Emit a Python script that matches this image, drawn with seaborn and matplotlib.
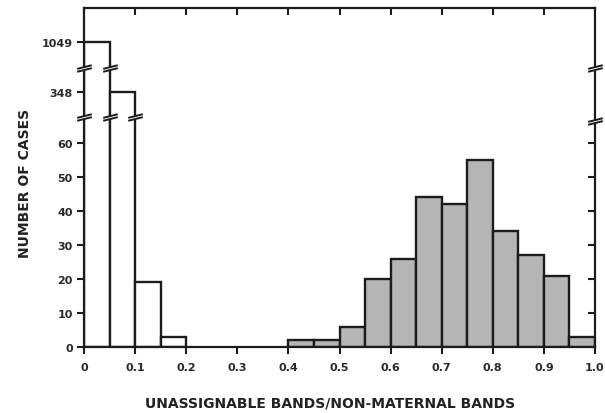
import numpy as np
import pandas as pd
import matplotlib
matplotlib.use("Agg")
import matplotlib.pyplot as plt
from matplotlib.path import Path
import seaborn as sns

# ---- data ----
bin_left = [0.00, 0.05, 0.10, 0.15, 0.20, 0.25, 0.30, 0.35, 0.40, 0.45,
            0.50, 0.55, 0.60, 0.65, 0.70, 0.75, 0.80, 0.85, 0.90, 0.95]
counts = [1049, 348, 19, 3, 0, 0, 0, 0, 2, 2,
          6, 20, 26, 44, 42, 55, 34, 27, 21, 3]
group = ["low"] * 8 + ["high"] * 12
y_ticks = [0, 10, 20, 30, 40, 50, 60, 348, 1049]
x_ticks = [0, 0.1, 0.2, 0.3, 0.4, 0.5, 0.6, 0.7, 0.8, 0.9, 1.0]
x_tick_labels = ["0", "0.1", "0.2", "0.3", "0.4", "0.5", "0.6", "0.7", "0.8", "0.9", "1.0"]

sns.set_theme(style="white")
plt.rcParams["font.family"] = ["DejaVu Sans"]

# piecewise-linear broken y scale
val_knots = np.array([0.0, 67.6, 348.0, 1049.0, 1500.0])
pos_knots = np.array([0.0, 230.0, 255.0, 305.5, 339.0])
def fwd(v):
    return np.interp(v, val_knots, pos_knots)
def inv(p):
    return np.interp(p, pos_knots, val_knots)

ink = "#1c1c1c"
fig = plt.figure(figsize=(6.05, 4.14), dpi=100)
ax = fig.add_axes([84 / 605, (414 - 348) / 414, (595 - 84) / 605, (348 - 9) / 414])
ax.set_yscale("function", functions=(fwd, inv))

df = pd.DataFrame({"x": np.array(bin_left) + 0.025, "count": counts, "group": group})
colors = {"low": "white", "high": "#b5b5b5"}
for g in ["low", "high"]:
    sub = df[df["group"] == g]
    sub = sub[sub["count"] > 0]
    lo = float(sub["x"].min() - 0.025)
    hi = float(sub["x"].max() + 0.025)
    sns.histplot(data=sub, x="x", weights="count", binwidth=0.05, binrange=(lo, hi),
                 color=colors[g], alpha=1, edgecolor=ink, linewidth=1.7,
                 ax=ax)

ax.set_xlim(0, 1.0)
ax.set_ylim(0, 1500)
ax.set_xticks(x_ticks)
ax.set_xticklabels(x_tick_labels)
ax.set_yticks(y_ticks)
ax.set_yticklabels([str(t) for t in y_ticks])
for s in ax.spines.values():
    s.set_visible(True)
    s.set_color(ink)
    s.set_linewidth(1.6)
tick_font = dict(family="DejaVu Sans", weight="bold", size=8)
ax.tick_params(axis="x", direction="out", top=False, bottom=True, length=5, width=1.5,
               color=ink, pad=6, labelcolor="#2a2a2a")
ax.tick_params(axis="y", direction="out", left=True, length=5, width=1.5,
               color=ink, pad=3, labelcolor="#2a2a2a")
for lab in ax.get_xticklabels() + ax.get_yticklabels():
    lab.set_fontproperties(matplotlib.font_manager.FontProperties(**tick_font))

ax.set_xlabel("UNASSIGNABLE BANDS/NON-MATERNAL BANDS", fontsize=10,
              fontweight="bold", color="#222222")
ax.xaxis.set_label_coords((330 - 84) / 511, -(404 - 348) / 339)
ax.xaxis.label.set_va("center")
ax.set_ylabel("NUMBER OF CASES", fontsize=10, fontweight="bold", color="#222222")
ax.yaxis.set_label_coords(-(84 - 25) / 511, (348 - 183) / 339)
ax.yaxis.label.set_va("center")

# top ticks (inward) and right-side ticks (lower segment only)
axt = ax.twiny()
axt.set_xlim(ax.get_xlim())
axt.set_xticks(x_ticks[1:-1])
axt.tick_params(axis="x", direction="in", top=True, length=5, width=1.5,
                color=ink, labeltop=False)
ax2 = ax.twinx()
ax2.set_yscale("function", functions=(fwd, inv))
ax2.set_ylim(ax.get_ylim())
ax2.set_yticks([10, 20, 30, 40, 50, 60])
ax2.tick_params(axis="y", direction="in", right=True, length=5, width=1.5,
                color=ink, labelright=False)
for a in (axt, ax2):
    for s in a.spines.values():
        s.set_visible(False)
    a.grid(False)

# break marks
line_path = Path([(-1, -0.05), (1, 0.45), (-1, -0.45), (1, 0.05)],
                 [Path.MOVETO, Path.LINETO, Path.MOVETO, Path.LINETO])
fill_path = Path([(-1, -0.05), (1, 0.45), (1, 0.05), (-1, -0.45), (-1, -0.05)],
                 [Path.MOVETO, Path.LINETO, Path.LINETO, Path.LINETO, Path.CLOSEPOLY])
upper_break = 681
lower_break = 67.6
breaks = [(0.0, upper_break), (0.05, upper_break), (1.0, upper_break),
          (0.0, lower_break), (0.05, lower_break), (0.10, lower_break), (1.0, 66.5)]
for bx, by in breaks:
    ax.plot([bx], [by], marker=fill_path, ms=10.5, mfc="white", mec="white", mew=0,
            clip_on=False, zorder=10)
    ax.plot([bx], [by], marker=line_path, ms=10.5, mfc="none", mec=ink, mew=1.4,
            clip_on=False, zorder=11, linestyle="none")

fig.savefig("out.png", dpi=100)
